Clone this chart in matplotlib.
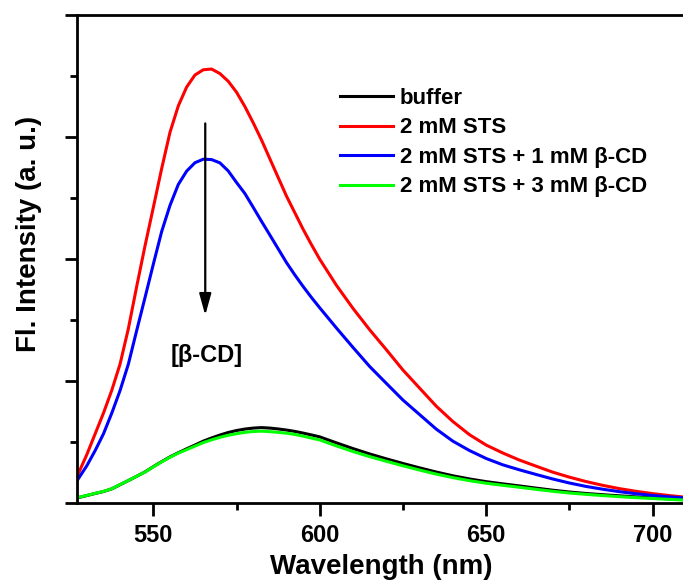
import numpy as np
import matplotlib
matplotlib.use('Agg')
import matplotlib.pyplot as plt
from matplotlib.ticker import MultipleLocator, NullFormatter

plt.rcParams['font.family'] = ['Liberation Sans', 'DejaVu Sans']
plt.rcParams['font.weight'] = 'bold'

# emission spectra, intensity in arbitrary units
wavelength = [527, 530, 532.5, 535, 537.5, 540, 542.5, 545, 547.5, 550, 552.5, 555, 557.5,
              560, 562.5, 565, 567.5, 570, 572.5, 575, 577.5, 580, 582.5, 585, 587.5, 590,
              592.5, 595, 597.5, 600, 605, 610, 615, 620, 625, 630, 635, 640, 645, 650,
              655, 660, 665, 670, 675, 680, 685, 690, 695, 700, 705, 710]
buffer_int = [4.1, 6.1, 7.8, 9.4, 11.6, 15.0, 18.4, 21.9, 25.5, 29.8, 33.9, 37.8, 41.2,
              44.4, 47.5, 50.7, 53.3, 55.7, 57.8, 59.4, 60.6, 61.4, 61.8, 61.4, 60.7, 59.8,
              58.7, 57.3, 55.8, 54.2, 49.3, 44.6, 40.2, 36.2, 32.4, 28.8, 25.4, 22.3, 19.7, 17.5,
              15.7, 14.0, 12.2, 10.5, 9.0, 7.8, 6.8, 5.9, 5.0, 4.2, 3.4, 2.7]
sts_int = [21.3, 39.6, 56.6, 73.6, 92.3, 113.9, 143.0, 177.5, 210.8, 242.3, 274.1, 303.8, 325.5,
           340.9, 350.8, 355.1, 355.7, 352.0, 345.7, 336.7, 325.0, 311.7, 297.6, 282.2, 266.9, 251.6,
           238.0, 224.4, 211.8, 199.8, 178.5, 159.5, 142.0, 125.7, 109.0, 94.2, 79.4, 66.8, 56.0, 47.5,
           41.0, 35.2, 30.2, 25.3, 21.2, 17.6, 14.5, 11.8, 9.6, 7.7, 6.1, 4.7]
sts_cd1_int = [18.0, 30.5, 42.9, 56.6, 73.6, 92.2, 113.9, 141.4, 168.4, 195.8, 222.5, 243.9, 261.1,
               272.0, 278.9, 281.8, 281.5, 278.8, 272.2, 262.7, 253.7, 242.4, 230.9, 219.7, 208.4, 197.1,
               187.0, 177.5, 168.5, 160.0, 143.5, 127.5, 111.9, 98.1, 84.4, 72.5, 60.6, 50.7, 43.0, 36.5,
               31.3, 27.2, 23.4, 19.7, 16.4, 13.6, 11.3, 9.3, 7.6, 6.2, 5.0, 4.1]
sts_cd3_int = [4.3, 6.2, 7.9, 9.5, 11.7, 15.1, 18.5, 21.9, 25.4, 29.6, 33.7, 37.5, 40.9,
               43.7, 46.6, 49.5, 51.8, 53.8, 55.5, 56.8, 57.9, 58.6, 58.9, 58.5, 57.9, 57.2,
               56.2, 54.8, 53.2, 51.7, 46.8, 42.2, 38.0, 34.2, 30.5, 27.0, 23.7, 20.8, 18.3, 16.2,
               14.5, 12.9, 11.2, 9.6, 8.2, 7.1, 6.1, 5.2, 4.4, 3.7, 3.0, 2.3]

series = [
    ('buffer', buffer_int, 'black'),
    ('2 mM STS', sts_int, '#ff0000'),
    ('2 mM STS + 1 mM \u03b2-CD', sts_cd1_int, '#0000ff'),
    ('2 mM STS + 3 mM \u03b2-CD', sts_cd3_int, '#00ff00'),
]

fig = plt.figure(figsize=(6.83, 5.84), dpi=100)
ax = fig.add_axes([76.8 / 683, 81 / 584, 609 / 683, 488 / 584])

for label, vals, color in series:
    ax.plot(wavelength, vals, color=color, lw=2.2, label=label, solid_joinstyle='round')

ax.set_xlim(527, 710)
ax.set_ylim(0, 400)

ax.xaxis.set_major_locator(MultipleLocator(50))
ax.xaxis.set_minor_locator(MultipleLocator(25))
ax.yaxis.set_major_locator(MultipleLocator(100))
ax.yaxis.set_minor_locator(MultipleLocator(50))
ax.yaxis.set_major_formatter(NullFormatter())

for sp in ax.spines.values():
    sp.set_linewidth(2)
ax.tick_params(which='major', direction='out', length=9, width=2, labelsize=17, pad=6)
ax.tick_params(which='minor', direction='out', length=5, width=2)
for lbl in ax.get_xticklabels():
    lbl.set_fontweight('bold')

ax.set_xlabel('Wavelength (nm)', fontsize=20, fontweight='bold', labelpad=5)
ax.set_ylabel('Fl. Intensity (a. u.)', fontsize=20, fontweight='bold')
ax.yaxis.set_label_coords(-0.057, 0.551)

# arrow: quenching with added beta-cyclodextrin
ax.annotate('', xy=(565.6, 151.6), xytext=(565.6, 313.4),
            arrowprops=dict(arrowstyle='-|>,head_length=0.65,head_width=0.18',
                            mutation_scale=20, lw=1.6, color='black'))
ax.text(566.0, 121.3, '[\u03b2-CD]', ha='center', va='center', fontsize=17, fontweight='bold')

ax.legend(loc='upper left', bbox_to_anchor=(340 / 683, 1 - 88 / 584), bbox_transform=fig.transFigure,
          frameon=False, handlelength=2.4, handletextpad=0.3,
          labelspacing=0.38, borderpad=0, borderaxespad=0,
          prop={'weight': 'bold', 'size': 16})

fig.savefig('out.png', dpi=100)
